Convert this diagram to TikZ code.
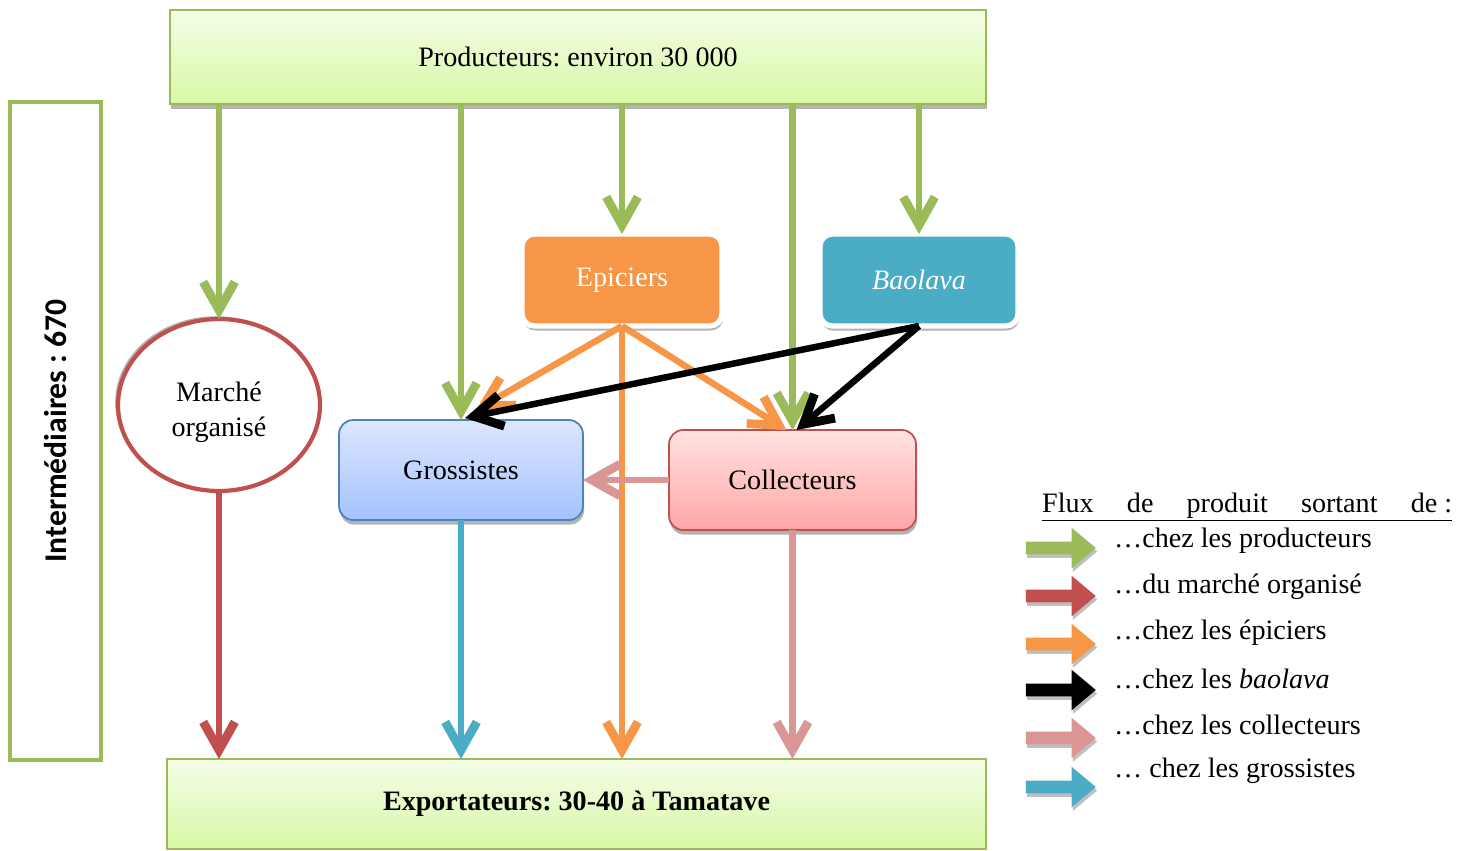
\documentclass[tikz,border=0pt]{standalone}
\usepackage{fontspec}
\setmainfont{Liberation Serif}
\newfontfamily\calib{Carlito}
\usepackage{tikz}
\usetikzlibrary{shapes,shapes.arrows,arrows.meta,shadows}
\definecolor{cvert}{HTML}{9BBB59}
\definecolor{crouge}{HTML}{C0504D}
\definecolor{corange}{HTML}{F79646}
\definecolor{cbleu}{HTML}{4BACC6}
\definecolor{crose}{HTML}{D99694}
\definecolor{cbleufonce}{HTML}{4F81BD}
\definecolor{verthaut}{HTML}{F4FDE8}
\definecolor{vertbas}{HTML}{D8F8A6}
\definecolor{bleuhaut}{HTML}{DDE7FF}
\definecolor{bleubas}{HTML}{A3C2FF}
\definecolor{rosehaut}{HTML}{FFE2E2}
\definecolor{rosebas}{HTML}{FFA6A6}
\frenchspacing
\tikzstyle{boite}=[rectangle, inner sep=0pt, outer sep=0pt, font=\fontsize{16}{20}\selectfont]
\tikzstyle{ombre}=[drop shadow={shadow xshift=0.6pt, shadow yshift=-2.6pt, opacity=0.6}]
\tikzstyle{flux}=[line width=3.7pt, -{Straight Barb[length=16pt,width=18pt,line width=5pt]}]
\tikzstyle{legfleche}=[single arrow, inner sep=0.12cm, single arrow head extend=0.28cm, minimum height=1.4cm, single arrow tip angle=80, drop shadow={shadow xshift=0.8pt, shadow yshift=-2pt, opacity=0.5}]

\begin{document}
\begin{tikzpicture}[x=0.02cm, y=-0.02cm]
\useasboundingbox (0,0) rectangle (1467,850);

% acteurs
\node[boite, draw=cvert, line width=1.5pt, top color=verthaut, bottom color=vertbas, minimum width=16.32cm, minimum height=1.88cm, ombre] (prod) at (578,57) {Producteurs: environ 30 000};
\node[boite, draw=cvert, line width=2.6pt, rotate=90, minimum width=13.16cm, minimum height=1.82cm, font=\calib\bfseries\fontsize{18}{20}\selectfont] (inter) at (55.5,431) {Intermédiaires : 670};
\node[ellipse, draw=crouge, line width=2.4pt, fill=white, inner sep=0pt, outer sep=0pt, minimum width=4.04cm, minimum height=3.44cm, align=center, font=\fontsize{16}{20}\selectfont, drop shadow={shadow xshift=-1.6pt, shadow yshift=1.6pt, opacity=0.6}] (mar) at (219,405) {\rule{0pt}{19pt}Marché\\organisé};
\node[boite, rounded corners=7pt, fill=corange, draw=white, line width=3pt, text=white, minimum width=4cm, minimum height=1.84cm, ombre] (epi) at (622,280) {Epiciers};
\node[boite, rounded corners=7pt, fill=cbleu, draw=white, line width=3pt, text=white, minimum width=3.96cm, minimum height=1.84cm, ombre] (bao) at (919,280) {\textit{Baolava}};
\node[boite, rounded corners=8pt, draw=cbleufonce, line width=1pt, top color=bleuhaut, bottom color=bleubas, minimum width=4.88cm, minimum height=2cm, ombre] (gro) at (461,470) {Grossistes};
\node[boite, rounded corners=8pt, draw=crouge, line width=1pt, top color=rosehaut, bottom color=rosebas, minimum width=4.94cm, minimum height=2cm, ombre] (col) at (792.5,480) {Collecteurs};
\node[boite, draw=cvert, line width=1.5pt, top color=verthaut, bottom color=vertbas, minimum width=16.38cm, minimum height=1.8cm, font=\bfseries\fontsize{16}{20}\selectfont] (exp) at (576.5,804) {Exportateurs: 30-40 à Tamatave};

% flux des producteurs
\draw[flux, cvert] (prod.south -| mar.north) -- (mar.north);
\draw[flux, cvert] (prod.south -| gro.north) -- (gro.north);
\draw[flux, cvert] (prod.south -| epi.north) -- (epi.north);
\draw[flux, cvert] (prod.south -| col.north) -- (col.north);
\draw[flux, cvert] (prod.south -| bao.north) -- (bao.north);

% flux des epiciers
\draw[flux, corange] (epi.south) -- ([xshift=0.3cm, yshift=0.2cm]gro.north);
\draw[flux, corange] (epi.south) -- ([xshift=-0.12cm]col.north);
\draw[flux, corange] (epi.south) -- (epi.south |- exp.north);

% flux des baolava
\draw[flux, black] (bao.south) -- ([xshift=0.08cm, yshift=0.04cm]gro.north);
\draw[flux, black] (bao.south) -- ([xshift=0.08cm]col.north);

% vers les exportateurs
\draw[flux, crose] (col.west) -- (col.west -| gro.east);
\draw[flux, crouge] (mar.south) -- (mar.south |- exp.north);
\draw[flux, cbleu] (gro.south) -- (gro.south |- exp.north);
\draw[flux, crose] (col.south) -- (col.south |- exp.north);

% legende
\node[anchor=west, font=\fontsize{16}{20}\selectfont] (titre) at (1036,507) {\underline{\makebox[8.2cm][s]{Flux de produit sortant de\kern4pt:}}};
\foreach \c/\t/\ya/\yt [count=\k] in {cvert/{…chez les producteurs}/548/541, crouge/{…du marché organisé}/596/587, corange/{…chez les épiciers}/644/633, black/{…chez les \textit{baolava}}/690/679, crose/{…chez les collecteurs}/738/725, cbleu/{… chez les grossistes}/787/771}{
  \node[legfleche, fill=\c] (fl\k) at (1057,\ya) {};
  \node[anchor=west, font=\fontsize{16}{20}\selectfont] (fltxt\k) at (1108,\yt) {\t};
}
\end{tikzpicture}
\end{document}
